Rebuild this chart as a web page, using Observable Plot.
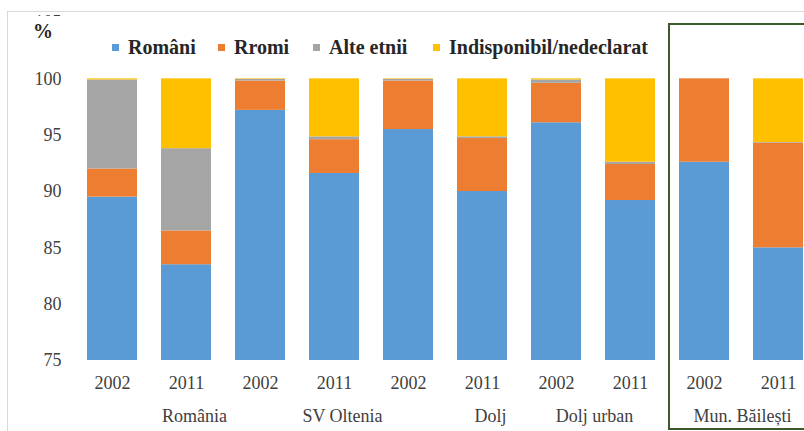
<!DOCTYPE html>
<html>
<head>
<meta charset="utf-8">
<script src="https://cdn.jsdelivr.net/npm/d3@7"></script>
<script src="https://cdn.jsdelivr.net/npm/@observablehq/plot@0.6"></script>
<style>
  html, body { margin: 0; padding: 0; background: #fff; overflow: hidden; }
  #wrap { position: relative; width: 804px; height: 431px; overflow: hidden; font-family: "Liberation Serif", "Times New Roman", serif; }
  #chart { position: absolute; left: 0; top: 0; width: 830px; }
  #chart svg { max-width: none !important; width: 830px; height: 431px; }
  .frame-top { position: absolute; left: 7px; top: 11px; width: 820px; height: 1px; background: #d9d9d9; }
  .frame-left { position: absolute; left: 7px; top: 11px; width: 1px; height: 440px; background: #d9d9d9; }
  #pct { position: absolute; left: 24px; top: 16px; width: 46px; height: 26px; background: #fff; font-family: "Liberation Serif", "Times New Roman", serif; font-weight: bold; font-size: 20px; color: #262626; line-height: 30px; padding-left: 9px; box-sizing: border-box; }
  #legend { position: absolute; left: 0; top: 35px; height: 24px; width: 700px; font-family: "Liberation Serif", "Times New Roman", serif; font-weight: bold; font-size: 20px; color: #262626; white-space: nowrap; }
  #legend .item { position: absolute; top: 0; display: flex; align-items: center; height: 24px; }
  #legend .sw { width: 7px; height: 7px; margin-right: 9px; }
  #box { position: absolute; left: 668px; top: 23px; width: 300px; height: 403px; border: 2px solid #3b5a2a; }
</style>
</head>
<body>
<div id="wrap">
  <div id="chart"></div>
  <div class="frame-top"></div>
  <div class="frame-left"></div>
  <div id="pct">%</div>
  <div id="legend"></div>
  <div id="box"></div>
</div>
<script>
const regions = ["România", "SV Oltenia", "Dolj", "Dolj urban", "Mun. Băilești"];
const years = ["2002", "2011"];
const series = ["Români", "Rromi", "Alte etnii", "Indisponibil/nedeclarat"];
const colors = ["#5b9bd5", "#ed7d31", "#a5a5a5", "#ffc000"];
const romani = [89.5, 83.5, 97.2, 91.6, 95.5, 90.0, 96.1, 89.2, 92.6, 85.0];
const rromi  = [2.5, 3.0, 2.6, 3.0, 4.3, 4.7, 3.5, 3.2, 7.4, 9.3];
const alte   = [7.9, 7.3, 0.15, 0.25, 0.15, 0.15, 0.3, 0.2, 0.0, 0.05];
const indisp = [0.1, 6.2, 0.05, 5.15, 0.05, 5.15, 0.1, 7.4, 0.0, 5.65];
const yTicks = [75, 80, 85, 90, 95, 100, 105];

const valuesBySeries = [romani, rromi, alte, indisp];
const keys = [];
regions.forEach(r => years.forEach(y => keys.push(r + "|" + y)));
const rows = [];
keys.forEach((k, i) => series.forEach((s, j) => rows.push({key: k, series: s, value: valuesBySeries[j][i]})));

const groupsOffsetRight = regions.slice(0, 3);
const groupsCentered = regions.slice(3);

const plot = Plot.plot({
  width: 830,
  height: 431,
  marginLeft: 75,
  marginRight: 15,
  marginTop: 22,
  marginBottom: 71,
  style: {fontFamily: "'Liberation Serif', 'Times New Roman', serif", fontSize: "18px", color: "#404040", background: "transparent", maxWidth: "none"},
  x: {domain: keys, paddingInner: 0.324, paddingOuter: 0.162, axis: null},
  y: {domain: [75, 105], axis: null},
  color: {domain: series, range: colors},
  marks: [
    Plot.ruleY(yTicks, {stroke: "#d9d9d9", x1: 74, x2: 830 }),
    Plot.barY(rows, {x: "key", y: "value", fill: "series", order: series, clip: true}),
    Plot.axisY(yTicks, {tickSize: 0, tickPadding: 14, fontSize: 18, fill: "#404040", label: null, tickFormat: d => String(d)}),
    Plot.axisX({tickSize: 0, tickPadding: 16, fontSize: 18, fill: "#404040", label: null, tickFormat: k => k.split("|")[1]}),
    Plot.text(groupsOffsetRight, {x: r => r + "|2011", frameAnchor: "bottom", lineAnchor: "middle", dy: 56, dx: 8, text: d => d, fontSize: 18, fill: "#404040"}),
    Plot.text(groupsCentered, {x: r => r + "|2011", frameAnchor: "bottom", lineAnchor: "middle", dy: 56, dx: -36, text: d => d, fontSize: 18, fill: "#404040"})
  ]
});
document.getElementById("chart").appendChild(plot);

const legendLeft = [112, 218, 313, 433];
const legend = document.getElementById("legend");
series.forEach((s, i) => {
  const item = document.createElement("div");
  item.className = "item";
  item.style.left = legendLeft[i] + "px";
  const sw = document.createElement("div");
  sw.className = "sw";
  sw.style.background = colors[i];
  const t = document.createElement("span");
  t.textContent = s;
  item.appendChild(sw);
  item.appendChild(t);
  legend.appendChild(item);
});
</script>
</body>
</html>
